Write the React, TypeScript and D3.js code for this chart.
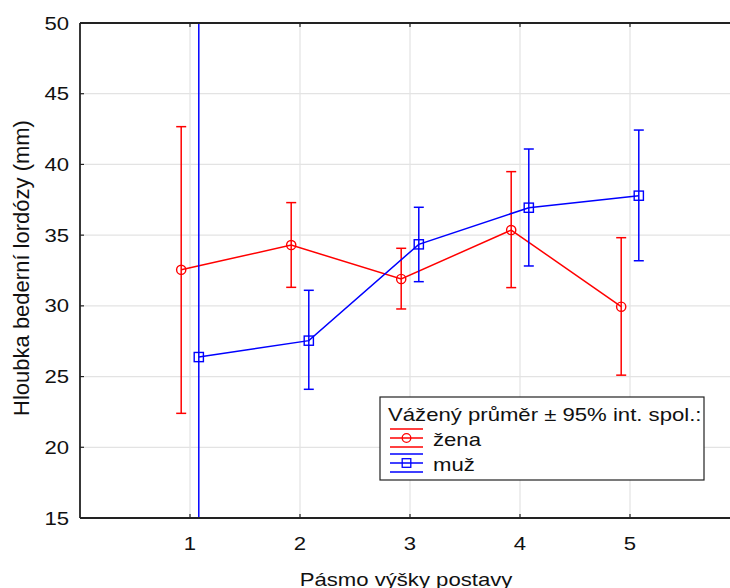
import React from "react";
import * as d3 from "d3";

const categories = [1, 2, 3, 4, 5];
const zenaMean = [32.55, 34.3, 31.9, 35.36, 29.94];
const zenaLow = [22.4, 31.31, 29.78, 31.29, 25.1];
const zenaHigh = [42.67, 37.3, 34.07, 39.49, 34.82];
const muzMean = [26.38, 27.54, 34.35, 36.94, 37.79];
const muzLow = [-1.6, 24.1, 31.71, 32.82, 33.19];
const muzHigh = [54.4, 31.1, 36.97, 41.09, 42.43];
const yTicks = [15, 20, 25, 30, 35, 40, 45, 50];
const xTicks = [1, 2, 3, 4, 5];

const W = 730;
const H = 588;
const M = { left: 80, top: 23, right: 740, bottom: 518 };
const FONT = "'Liberation Sans', Arial, sans-serif";
const FS = 18.6;
const SX = 1.19;

function HText({ x, y, anchor = "start", children }: { x: number; y: number; anchor?: string; children: React.ReactNode }) {
  return (
    <text
      transform={`translate(${x},${y}) scale(${SX},1)`}
      textAnchor={anchor}
      fontSize={FS}
      fill="#111"
    >
      {children}
    </text>
  );
}

export default function App() {
  const x = d3.scaleLinear().domain([0, 6]).range([M.left, M.right]);
  const y = d3.scaleLinear().domain([15, 50]).range([M.bottom, M.top]);
  const off = 0.08;

  const series = [
    { name: "žena", color: "#ff0000", mean: zenaMean, low: zenaLow, high: zenaHigh, dx: -off, marker: "circle" },
    { name: "muž", color: "#0000ff", mean: muzMean, low: muzLow, high: muzHigh, dx: off, marker: "square" },
  ];

  const line = d3.line<[number, number]>().x((d) => d[0]).y((d) => d[1]);

  const marker = (kind: string, cx: number, cy: number, color: string, key: string) =>
    kind === "circle" ? (
      <circle key={key} cx={cx} cy={cy} r={4.6} fill="none" stroke={color} strokeWidth={1.4} />
    ) : (
      <rect key={key} x={cx - 4.6} y={cy - 4.6} width={9.2} height={9.2} fill="none" stroke={color} strokeWidth={1.4} />
    );

  const lx = 380, ly = 397, lw = 324, lh = 83;

  return (
    <svg width={W} height={H} style={{ position: "absolute", left: 0, top: 0, background: "#fff" }} fontFamily={FONT}>
      <defs>
        <clipPath id="plotclip">
          <rect x={M.left} y={M.top} width={M.right - M.left} height={M.bottom - M.top} />
        </clipPath>
      </defs>
      <rect x={0} y={0} width={W} height={H} fill="#fff" />
      {/* grid */}
      {yTicks.slice(1, -1).map((t) => (
        <line key={"gy" + t} x1={M.left} x2={M.right} y1={y(t)} y2={y(t)} stroke="#e3e3e3" strokeWidth={1.2} />
      ))}
      {xTicks.map((t) => (
        <line key={"gx" + t} x1={x(t)} x2={x(t)} y1={M.top} y2={M.bottom} stroke="#e3e3e3" strokeWidth={1.2} />
      ))}
      {/* data */}
      <g clipPath="url(#plotclip)">
        {series.map((s) => (
          <g key={s.name}>
            <path
              d={line(categories.map((c, i) => [x(c + s.dx), y(s.mean[i])]))!}
              fill="none"
              stroke={s.color}
              strokeWidth={1.5}
            />
            {categories.map((c, i) => {
              const cx = x(c + s.dx);
              return (
                <g key={i}>
                  <line x1={cx} x2={cx} y1={y(s.low[i])} y2={y(s.high[i])} stroke={s.color} strokeWidth={1.5} />
                  <line x1={cx - 5} x2={cx + 5} y1={y(s.low[i])} y2={y(s.low[i])} stroke={s.color} strokeWidth={1.5} />
                  <line x1={cx - 5} x2={cx + 5} y1={y(s.high[i])} y2={y(s.high[i])} stroke={s.color} strokeWidth={1.5} />
                  {marker(s.marker, cx, y(s.mean[i]), s.color, "m" + i)}
                </g>
              );
            })}
          </g>
        ))}
      </g>
      {/* frame */}
      <line x1={M.left} x2={M.right} y1={M.top} y2={M.top} stroke="#222" strokeWidth={1.8} />
      <line x1={M.left} x2={M.right} y1={M.bottom} y2={M.bottom} stroke="#222" strokeWidth={1.8} />
      <line x1={M.left} x2={M.left} y1={M.top} y2={M.bottom} stroke="#222" strokeWidth={1.8} />
      {/* ticks */}
      {yTicks.map((t) => (
        <g key={"ty" + t}>
          <line x1={M.left} x2={M.left + 4} y1={y(t)} y2={y(t)} stroke="#222" strokeWidth={1.2} />
          <HText x={69} y={y(t) + 6.6} anchor="end">
            {t}
          </HText>
        </g>
      ))}
      {xTicks.map((t) => (
        <g key={"tx" + t}>
          <line x1={x(t)} x2={x(t)} y1={M.bottom} y2={M.bottom - 4} stroke="#222" strokeWidth={1.2} />
          <line x1={x(t)} x2={x(t)} y1={M.top} y2={M.top + 4} stroke="#222" strokeWidth={1.2} />
          <HText x={x(t)} y={549.5} anchor="middle">
            {t}
          </HText>
        </g>
      ))}
      {/* axis titles */}
      <HText x={406} y={585.5} anchor="middle">
        Pásmo výšky postavy
      </HText>
      <text
        transform={`translate(28.5, 268) rotate(-90)`}
        textAnchor="middle"
        fontSize={22}
        fill="#111"
      >
        Hloubka bederní lordózy (mm)
      </text>
      {/* legend */}
      <rect x={lx} y={ly} width={lw} height={lh} fill="#fff" stroke="#222" strokeWidth={1.2} />
      <HText x={lx + 8} y={ly + 23.5}>
        Vážený průměr ± 95% int. spol.:
      </HText>
      {series.map((s, i) => {
        const cy = ly + 41 + i * 25;
        const x0 = lx + 10, x1 = lx + 43;
        return (
          <g key={"lg" + s.name}>
            <line x1={x0} x2={x1} y1={cy - 9} y2={cy - 9} stroke={s.color} strokeWidth={1.3} />
            <line x1={x0} x2={x1} y1={cy} y2={cy} stroke={s.color} strokeWidth={1.3} />
            <line x1={x0} x2={x1} y1={cy + 9} y2={cy + 9} stroke={s.color} strokeWidth={1.3} />
            {s.marker === "circle" ? (
              <circle cx={(x0 + x1) / 2} cy={cy} r={4.3} fill="none" stroke={s.color} strokeWidth={1.3} />
            ) : (
              <rect x={(x0 + x1) / 2 - 4.3} y={cy - 4.3} width={8.6} height={8.6} fill="none" stroke={s.color} strokeWidth={1.3} />
            )}
            <HText x={lx + 53} y={cy + 8}>
              {s.name}
            </HText>
          </g>
        );
      })}
    </svg>
  );
}
